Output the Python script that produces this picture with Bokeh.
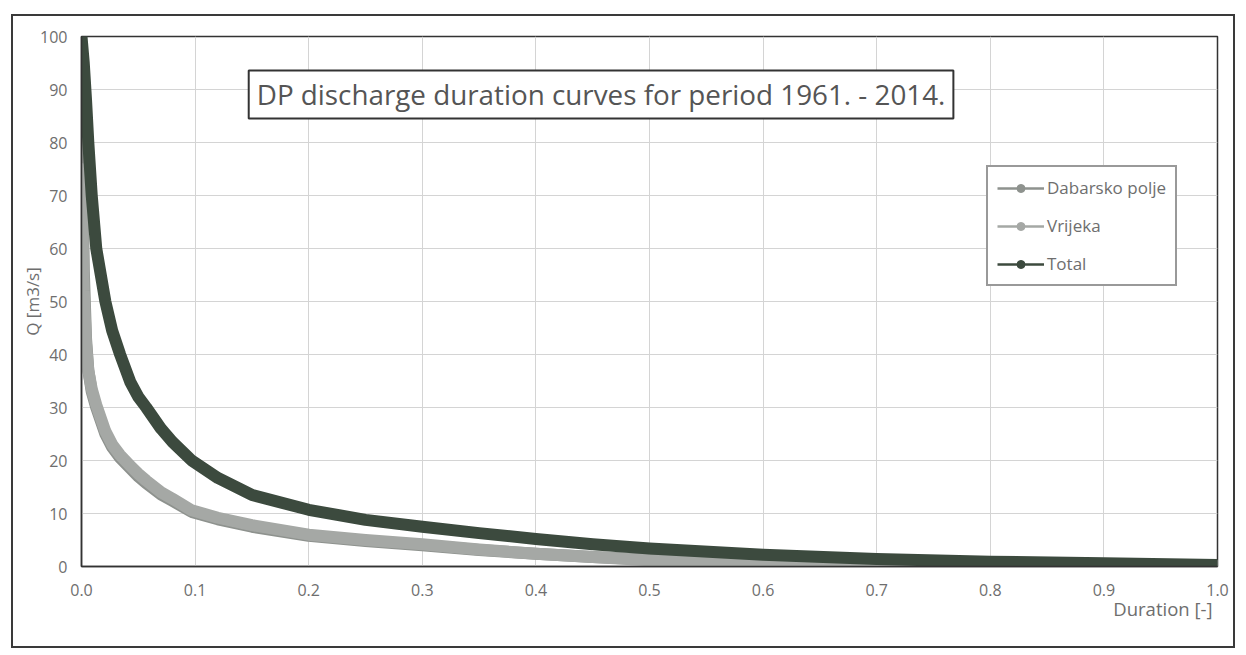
from bokeh.plotting import figure
from bokeh.models import ColumnDataSource, Legend, LegendItem, Label, Title, NumeralTickFormatter, Range1d
from bokeh.embed import file_html
from bokeh.resources import INLINE

# ---- data ----
duration = [0.0, 0.002, 0.004, 0.006, 0.009, 0.013, 0.017, 0.021, 0.027, 0.034, 0.043, 0.05,
            0.057, 0.07, 0.08, 0.097, 0.12, 0.15, 0.20, 0.25, 0.30, 0.35, 0.40, 0.45, 0.50,
            0.60, 0.70, 0.80, 0.90, 1.00]
dabarsko_polje = [88, 56, 43, 37, 33, 30, 27.5, 25, 22.5, 20.5, 18.5, 17,
                  15.7, 13.6, 12.4, 10.3, 8.9, 7.5, 5.8, 4.8, 4.0, 3.1, 2.4, 1.8, 1.3,
                  0.8, 0.5, 0.3, 0.2, 0.1]
vrijeka = [75, 52, 42, 37, 33.5, 30.5, 28, 25.5, 23, 21, 19, 17.5,
           16.2, 14, 12.8, 10.6, 9.2, 7.8, 6.0, 5.0, 4.2, 3.2, 2.4, 1.8, 1.2,
           0.6, 0.3, 0.15, 0.1, 0.05]
total = [100, 95, 88, 80, 70, 60, 55, 50, 44.5, 40, 34.8, 32,
         30, 26, 23.5, 20, 16.7, 13.5, 10.7, 8.8, 7.5, 6.3, 5.2, 4.2, 3.4,
         2.2, 1.4, 0.9, 0.6, 0.3]
series_names = ["Dabarsko polje", "Vrijeka", "Total"]
x_ticks = [0.0, 0.1, 0.2, 0.3, 0.4, 0.5, 0.6, 0.7, 0.8, 0.9, 1.0]
y_ticks = [0, 10, 20, 30, 40, 50, 60, 70, 80, 90, 100]
chart_title = "DP discharge duration curves for period 1961. - 2014."
x_title = "Duration [-]"
y_title = "Q [m3/s]"

FONT = "Open Sans"
TXT = "#6e6e6e"
colors = {"Dabarsko polje": "#8e928e", "Vrijeka": "#a5a8a5", "Total": "#3c4a3e"}

p = figure(width=1224, height=634, output_backend="svg", toolbar_location=None,
           x_range=Range1d(0, 1.0), y_range=Range1d(0, 100),
           min_border_left=68, min_border_right=20, min_border_top=20, min_border_bottom=84)
p.styles = {"border": "2px solid #3a3a3a", "box-sizing": "border-box",
            "margin-left": "11px", "margin-top": "14px"}
p.background_fill_color = "white"
p.border_fill_color = "white"
p.outline_line_color = "#333333"
p.outline_line_width = 1.5

src = ColumnDataSource(dict(d=duration, dab=dabarsko_polje, vri=vrijeka, tot=total))
for col, name in [("dab", "Dabarsko polje"), ("vri", "Vrijeka"), ("tot", "Total")]:
    p.line("d", col, source=src, line_color=colors[name], line_width=12, line_join="round", line_cap="round")

# legend-only renderers (a point outside the visible range)
off = ColumnDataSource(dict(x=[-1.0], y=[-10.0]))
items = []
for name in series_names:
    lr = p.line("x", "y", source=off, line_color=colors[name], line_width=2.5)
    sr = p.scatter("x", "y", source=off, size=10, marker="circle", fill_color=colors[name], line_color=colors[name])
    items.append(LegendItem(label=name, renderers=[lr, sr]))
legend = Legend(items=items, location=(905, 280), label_text_font=FONT, label_text_font_size="17px",
                label_text_color=TXT, border_line_color="#333333", border_line_width=2,
                background_fill_color="white", background_fill_alpha=1.0,
                glyph_width=47, glyph_height=20, label_height=20, spacing=15, padding=9, margin=0,
                label_standoff=3)
p.add_layout(legend, "center")

# axes
p.xaxis.ticker = x_ticks
p.yaxis.ticker = y_ticks
p.xaxis.formatter = NumeralTickFormatter(format="0.0")
for ax in (p.xaxis, p.yaxis):
    ax.major_tick_line_color = None
    ax.minor_tick_line_color = None
    ax.major_label_text_font = FONT
    ax.major_label_text_font_size = "16px"
    ax.major_label_text_color = TXT
    ax.axis_line_color = "#333333"
    ax.axis_line_width = 1.5
p.xaxis.major_label_standoff = 11
p.yaxis.major_label_standoff = 8
p.yaxis.axis_label = y_title
p.yaxis.axis_label_text_font = FONT
p.yaxis.axis_label_text_font_size = "17px"
p.yaxis.axis_label_text_font_style = "normal"
p.yaxis.axis_label_text_color = TXT
p.yaxis.axis_label_standoff = -7

p.xgrid.grid_line_color = "#d4d4d4"
p.ygrid.grid_line_color = "#d4d4d4"
p.xgrid.ticker = x_ticks
p.ygrid.ticker = y_ticks

xt = Title(text=x_title, align="right", text_font=FONT, text_font_size="18.5px",
           text_color=TXT, text_font_style="normal", standoff=-9, offset=5)
p.add_layout(xt, "below")

lab = Label(x=0.1472, y=93.6, text=chart_title, anchor="top_left",
            text_font=FONT, text_font_size="27.8px", text_color="#555555",
            border_line_color="#333333", border_line_width=2,
            background_fill_color="white", background_fill_alpha=1.0, padding=(8, 5))
p.add_layout(lab)

open("out.html", "w").write(file_html(p, INLINE))
